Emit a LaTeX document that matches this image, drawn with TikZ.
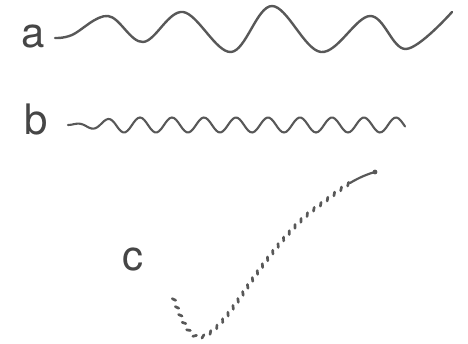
\documentclass[tikz,border=0pt]{standalone}
\usepackage{fontspec}
\setmainfont{TeX Gyre Heros}
\usetikzlibrary{decorations.markings}

\definecolor{inkgray}{RGB}{88,88,88}
\definecolor{txtgray}{RGB}{70,70,70}

\begin{document}
\begin{tikzpicture}[x=1pt,y=-1pt,
  lbl/.style={font=\fontsize{42}{42}\selectfont,text=txtgray,inner sep=0pt,anchor=base west},
  wv/.style={line width=2.4pt,inkgray,line cap=round,line join=round},
  twist/.style={decorate,decoration={markings,
    mark=between positions 0.01 and 1 step 8.5pt with
      {\draw[line width=2.7pt,inkgray,line cap=round] (-1.4pt,-1.3pt) -- (1.4pt,1.3pt);}}},
]

\useasboundingbox (0,0) rectangle (468,344);

% ============================================================
% (a) long wave
% ============================================================
\node[lbl] (lblA) at (21,48) {a};
\draw[wv] plot[smooth,tension=0.6] coordinates {
  (55,38) (72,35) (108,16) (143,42) (183,12) (231,52)
  (272,6) (321,52) (370,16) (406,49) (452,12)};

% ============================================================
% (b) short wave
% ============================================================
\node[lbl] (lblB) at (24,135) {b};
\begin{scope}
  \def\xs{68}
  \def\xe{405}
  \draw[wv,line width=2.1pt] plot[smooth,samples=160,domain=\xs:\xe]
    (\x,{125-min(1,(\x-\xs)/50)*7.5*sin(11.25*(\x-\xs))});
\end{scope}

% ============================================================
% (c) twisted strand
% ============================================================
\node[lbl] (lblC) at (122,271) {c};
\coordinate (cStart) at (173,297);
\coordinate (cKnee) at (350,183);
\coordinate (cEnd) at (375,172);
\path[twist] (cStart) .. controls (180,315) and (188,338) .. (200,337)
  .. controls (215,336) and (235,305) .. (250,283)
  .. controls (268,257) and (295,222) .. (317,207)
  .. controls (328,199) and (340,189) .. (cKnee);
\draw[wv,line width=2.2pt] (cKnee) .. controls (360,177) and (368,174) .. (cEnd);
\fill[inkgray] (cEnd) circle (2.4pt);

\end{tikzpicture}
\end{document}
